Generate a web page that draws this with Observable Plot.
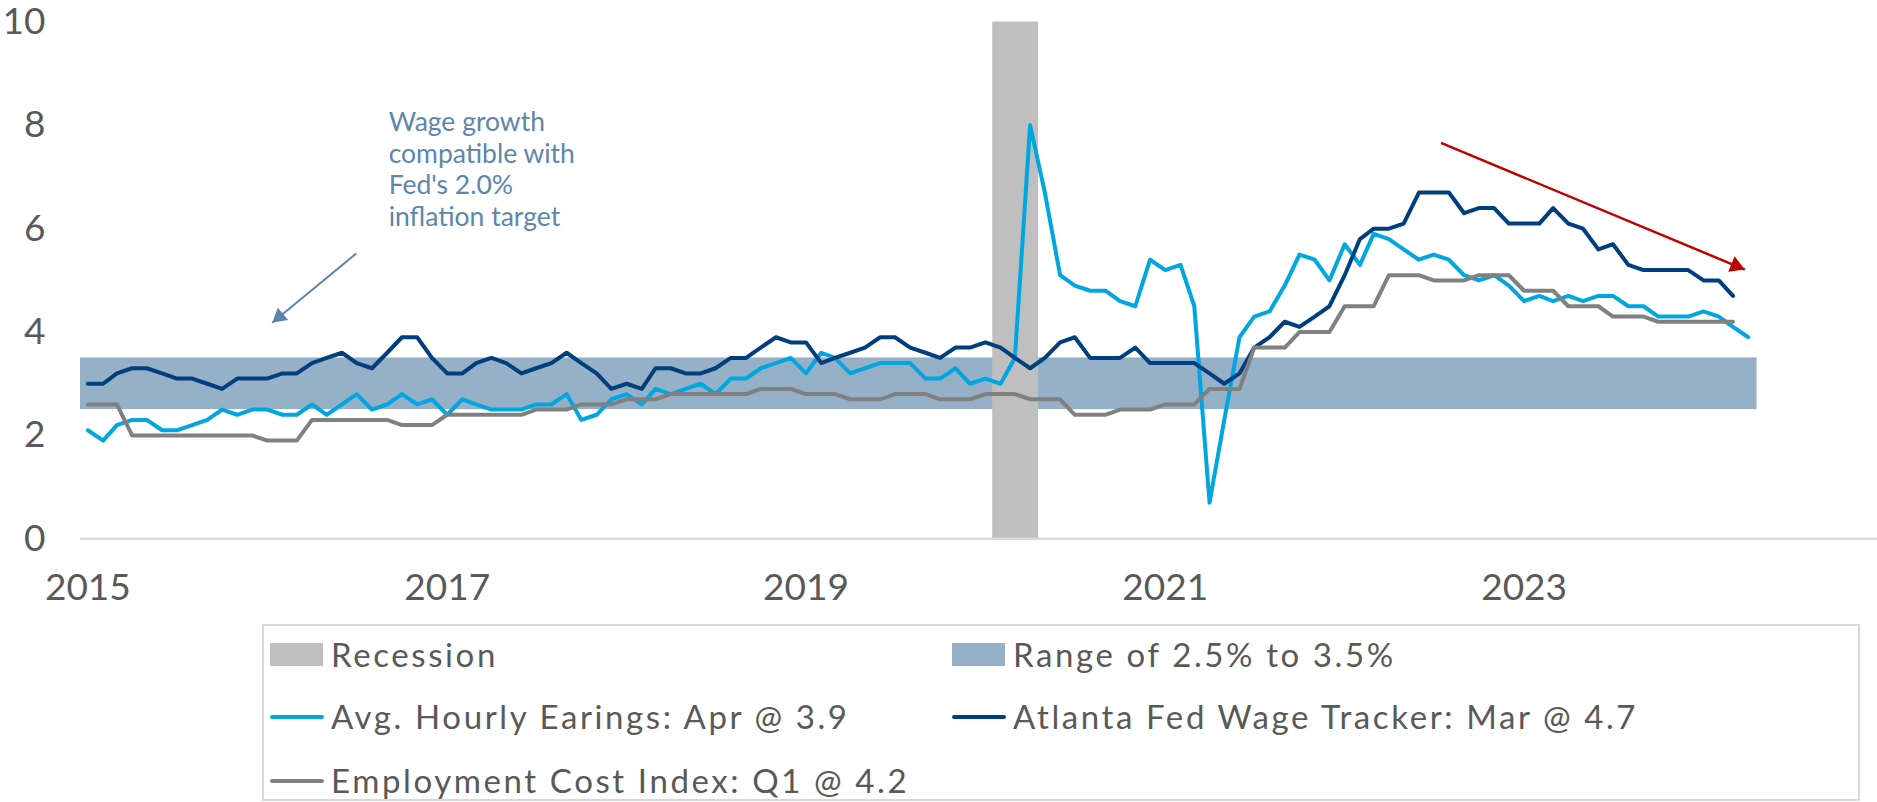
<!DOCTYPE html>
<html>
<head>
<meta charset="utf-8">
<script src="https://cdn.jsdelivr.net/npm/d3@7"></script>
<script src="https://cdn.jsdelivr.net/npm/@observablehq/plot@0.6"></script>
<style>
  html, body { margin: 0; padding: 0; background: #fff; }
  #wrap { position: relative; width: 1877px; height: 802px; font-family: Lato, "Noto Sans", sans-serif; overflow: hidden; }
  #chart { position: absolute; left: 0; top: 0; }
  #legendBox { position: absolute; left: 262px; top: 624px; width: 1598px; height: 177px; border: 2px solid #d9d9d9; box-sizing: border-box; }
  .item { position: absolute; height: 32px; font-size: 33px; line-height: 32px; letter-spacing: 2.6px; color: #595959; white-space: nowrap; }
  .item .txt { position: absolute; left: 61px; top: 0; }
  .item .sw { position: absolute; left: 0; }
</style>
</head>
<body>
<div id="wrap">
  <div id="chart"></div>
  <div id="legendBox"></div>
</div>
<script>
// ---------------- data ----------------
const startMonth = "2015-01-01";
// Average Hourly Earnings, y/y %, Jan 2015 .. Apr 2024
const aheValues = [
  2.1,1.9,2.2,2.3,2.3,2.1,2.1,2.2,2.3,2.5,2.4,2.5,
  2.5,2.4,2.4,2.6,2.4,2.6,2.8,2.5,2.6,2.8,2.6,2.7,
  2.4,2.7,2.6,2.5,2.5,2.5,2.6,2.6,2.8,2.3,2.4,2.7,
  2.8,2.6,2.9,2.8,2.9,3.0,2.8,3.1,3.1,3.3,3.4,3.5,
  3.2,3.6,3.5,3.2,3.3,3.4,3.4,3.4,3.1,3.1,3.3,3.0,
  3.1,3.0,3.5,8.0,6.7,5.1,4.9,4.8,4.8,4.6,4.5,5.4,
  5.2,5.3,4.5,0.7,2.3,3.9,4.3,4.4,4.9,5.5,5.4,5.0,
  5.7,5.3,5.9,5.8,5.6,5.4,5.5,5.4,5.1,5.0,5.1,4.9,
  4.6,4.7,4.6,4.7,4.6,4.7,4.7,4.5,4.5,4.3,4.3,4.3,
  4.4,4.3,4.1,3.9
];
// Atlanta Fed Wage Growth Tracker, Jan 2015 .. Mar 2024
const atlValues = [
  3.0,3.0,3.2,3.3,3.3,3.2,3.1,3.1,3.0,2.9,3.1,3.1,
  3.1,3.2,3.2,3.4,3.5,3.6,3.4,3.3,3.6,3.9,3.9,3.5,
  3.2,3.2,3.4,3.5,3.4,3.2,3.3,3.4,3.6,3.4,3.2,2.9,
  3.0,2.9,3.3,3.3,3.2,3.2,3.3,3.5,3.5,3.7,3.9,3.8,
  3.8,3.4,3.5,3.6,3.7,3.9,3.9,3.7,3.6,3.5,3.7,3.7,
  3.8,3.7,3.5,3.3,3.5,3.8,3.9,3.5,3.5,3.5,3.7,3.4,
  3.4,3.4,3.4,3.2,3.0,3.2,3.7,3.9,4.2,4.1,4.3,4.5,
  5.1,5.8,6.0,6.0,6.1,6.7,6.7,6.7,6.3,6.4,6.4,6.1,
  6.1,6.1,6.4,6.1,6.0,5.6,5.7,5.3,5.2,5.2,5.2,5.2,
  5.0,5.0,4.7
];
// Employment Cost Index (quarterly value shown monthly), Jan 2015 .. Mar 2024
const eciValues = [
  2.6,2.6,2.6,2.0,2.0,2.0,2.0,2.0,2.0,2.0,2.0,2.0,
  1.9,1.9,1.9,2.3,2.3,2.3,2.3,2.3,2.3,2.2,2.2,2.2,
  2.4,2.4,2.4,2.4,2.4,2.4,2.5,2.5,2.5,2.6,2.6,2.6,
  2.7,2.7,2.7,2.8,2.8,2.8,2.8,2.8,2.8,2.9,2.9,2.9,
  2.8,2.8,2.8,2.7,2.7,2.7,2.8,2.8,2.8,2.7,2.7,2.7,
  2.8,2.8,2.8,2.7,2.7,2.7,2.4,2.4,2.4,2.5,2.5,2.5,
  2.6,2.6,2.6,2.9,2.9,2.9,3.7,3.7,3.7,4.0,4.0,4.0,
  4.5,4.5,4.5,5.1,5.1,5.1,5.0,5.0,5.0,5.1,5.1,5.1,
  4.8,4.8,4.8,4.5,4.5,4.5,4.3,4.3,4.3,4.2,4.2,4.2,
  4.2,4.2,4.2
];
const seriesNames = ["Avg. Hourly Earings: Apr @ 3.9", "Atlanta Fed Wage Tracker: Mar @ 4.7", "Employment Cost Index: Q1 @ 4.2"];
const seriesColors = ["#00a6e0", "#003f7d", "#808080"];
// shaded ranges (edges as drawn)
const bandRange = [{x1: "2014-12-17", x2: "2024-04-19", y1: 2.5, y2: 3.5}];
const recession = [{x1: "2020-01-16", x2: "2020-04-18", y1: 0, y2: 10}];
const legendLabels = ["Recession", "Range of 2.5% to 3.5%"];
// axes
const yTicks = [0, 2, 4, 6, 8, 10];
const xTickYears = [2015, 2017, 2019, 2021, 2023];
const xDomain = ["2014-12-17", "2024-12-20"];
// annotations
const noteText = ["Wage growth", "compatible with", "Fed's 2.0%", "inflation target"];
const notePos = {x: "2016-09-04", y: 7.17};
const blueArrow = {x1: "2016-06-30", y1: 5.52, x2: "2016-01-11", y2: 4.18};
const redArrow = {x1: "2022-07-16", y1: 7.66, x2: "2024-03-25", y2: 5.21};

// ---------------- build ----------------
const d = s => new Date(s + "T00:00:00Z");
const months = n => d3.utcMonth.range(d(startMonth), d3.utcMonth.offset(d(startMonth), n));
const mk = (vals, k) => months(vals.length).map((date, i) => ({date, value: vals[i], series: seriesNames[k]}));
const aheRows = mk(aheValues, 0), atlRows = mk(atlValues, 1), eciRows = mk(eciValues, 2);

const W = 1877, H = 610, mT = 21.5, mB = 71.7, mL = 80, mR = 0;
const xd = xDomain.map(d);
const xs = d3.scaleUtc(xd, [mL, W - mR]);
const ys = d3.scaleLinear([0, 10], [H - mB, mT]);

function headInfo(a, r) {
  const dx = xs(d(a.x2)) - xs(d(a.x1)), dy = ys(a.y2) - ys(a.y1);
  const ang = Math.atan2(dy, dx);
  const tip = 2 * r * Math.sqrt(Math.PI / (3 * Math.sqrt(3)));
  return {rotate: ang * 180 / Math.PI + 90, dx: -tip * Math.cos(ang), dy: -tip * Math.sin(ang)};
}
const rB = 6, rR = 6.2;
const hb = headInfo(blueArrow, rB), hr = headInfo(redArrow, rR);
const toLink = a => [{x1: d(a.x1), y1: a.y1, x2: d(a.x2), y2: a.y2}];

const chart = Plot.plot({
  width: W, height: H,
  marginTop: mT, marginBottom: mB, marginLeft: mL, marginRight: mR,
  style: {fontFamily: "Lato, 'Noto Sans', sans-serif", fontSize: "37px", color: "#595959", background: "transparent", overflow: "visible"},
  x: {type: "utc", domain: xd, ticks: xTickYears.map(y => new Date(Date.UTC(y, 0, 1))), tickFormat: d3.utcFormat("%Y"), tickSize: 0, tickPadding: 35, label: null},
  y: {domain: [0, 10], ticks: yTicks, tickSize: 0, tickPadding: 35, label: null},
  marks: [
    Plot.rect(bandRange, {x1: r => d(r.x1), x2: r => d(r.x2), y1: "y1", y2: "y2", fill: "#96b0c8"}),
    Plot.rect(recession, {x1: r => d(r.x1), x2: r => d(r.x2), y1: "y1", y2: "y2", fill: "#bfbfbf"}),
    Plot.ruleY([0], {stroke: "#d9d9d9", strokeWidth: 2.5}),
    Plot.line(aheRows, {x: "date", y: "value", stroke: seriesColors[0], strokeWidth: 4}),
    Plot.line(atlRows, {x: "date", y: "value", stroke: seriesColors[1], strokeWidth: 4}),
    Plot.line(eciRows, {x: "date", y: "value", stroke: seriesColors[2], strokeWidth: 4}),
    Plot.text([notePos], {x: r => d(r.x), y: "y", text: () => noteText.join("\n"), textAnchor: "start", lineAnchor: "middle", lineHeight: 1.2, fontSize: 26.5, fill: "#5e86ad"}),
    Plot.link(toLink(blueArrow), {x1: "x1", y1: "y1", x2: "x2", y2: "y2", stroke: "#5b84ad", strokeWidth: 2}),
    Plot.dot(toLink(blueArrow), {x: "x2", y: "y2", symbol: "triangle", r: rB, fill: "#5b84ad", stroke: "none", rotate: hb.rotate, dx: hb.dx, dy: hb.dy}),
    Plot.link(toLink(redArrow), {x1: "x1", y1: "y1", x2: "x2", y2: "y2", stroke: "#c00000", strokeWidth: 2.5}),
    Plot.dot(toLink(redArrow), {x: "x2", y: "y2", symbol: "triangle", r: rR, fill: "#c00000", stroke: "none", rotate: hr.rotate, dx: hr.dx, dy: hr.dy})
  ]
});
document.getElementById("chart").appendChild(chart);

// ---------------- legend ----------------
const wrap = document.getElementById("wrap");
const legendItems = [
  {label: legendLabels[0], kind: "rect", color: "#bfbfbf", left: 270, top: 638},
  {label: legendLabels[1], kind: "rect", color: "#96b0c8", left: 952, top: 638},
  {label: seriesNames[0], kind: "line", color: seriesColors[0], left: 270, top: 700},
  {label: seriesNames[1], kind: "line", color: seriesColors[1], left: 952, top: 700},
  {label: seriesNames[2], kind: "line", color: seriesColors[2], left: 270, top: 764}
];
legendItems.forEach(it => {
  const el = document.createElement("div");
  el.className = "item";
  el.style.left = it.left + "px";
  el.style.top = it.top + "px";
  const sw = document.createElement("div");
  sw.className = "sw";
  if (it.kind === "rect") {
    sw.style.width = "53px"; sw.style.height = "23px"; sw.style.top = "5px"; sw.style.background = it.color;
  } else {
    sw.style.width = "54px"; sw.style.height = "4px"; sw.style.top = "15px"; sw.style.background = it.color; sw.style.borderRadius = "2px";
  }
  const tx = document.createElement("span");
  tx.className = "txt";
  tx.textContent = it.label;
  el.appendChild(sw); el.appendChild(tx);
  wrap.appendChild(el);
});
</script>
</body>
</html>
